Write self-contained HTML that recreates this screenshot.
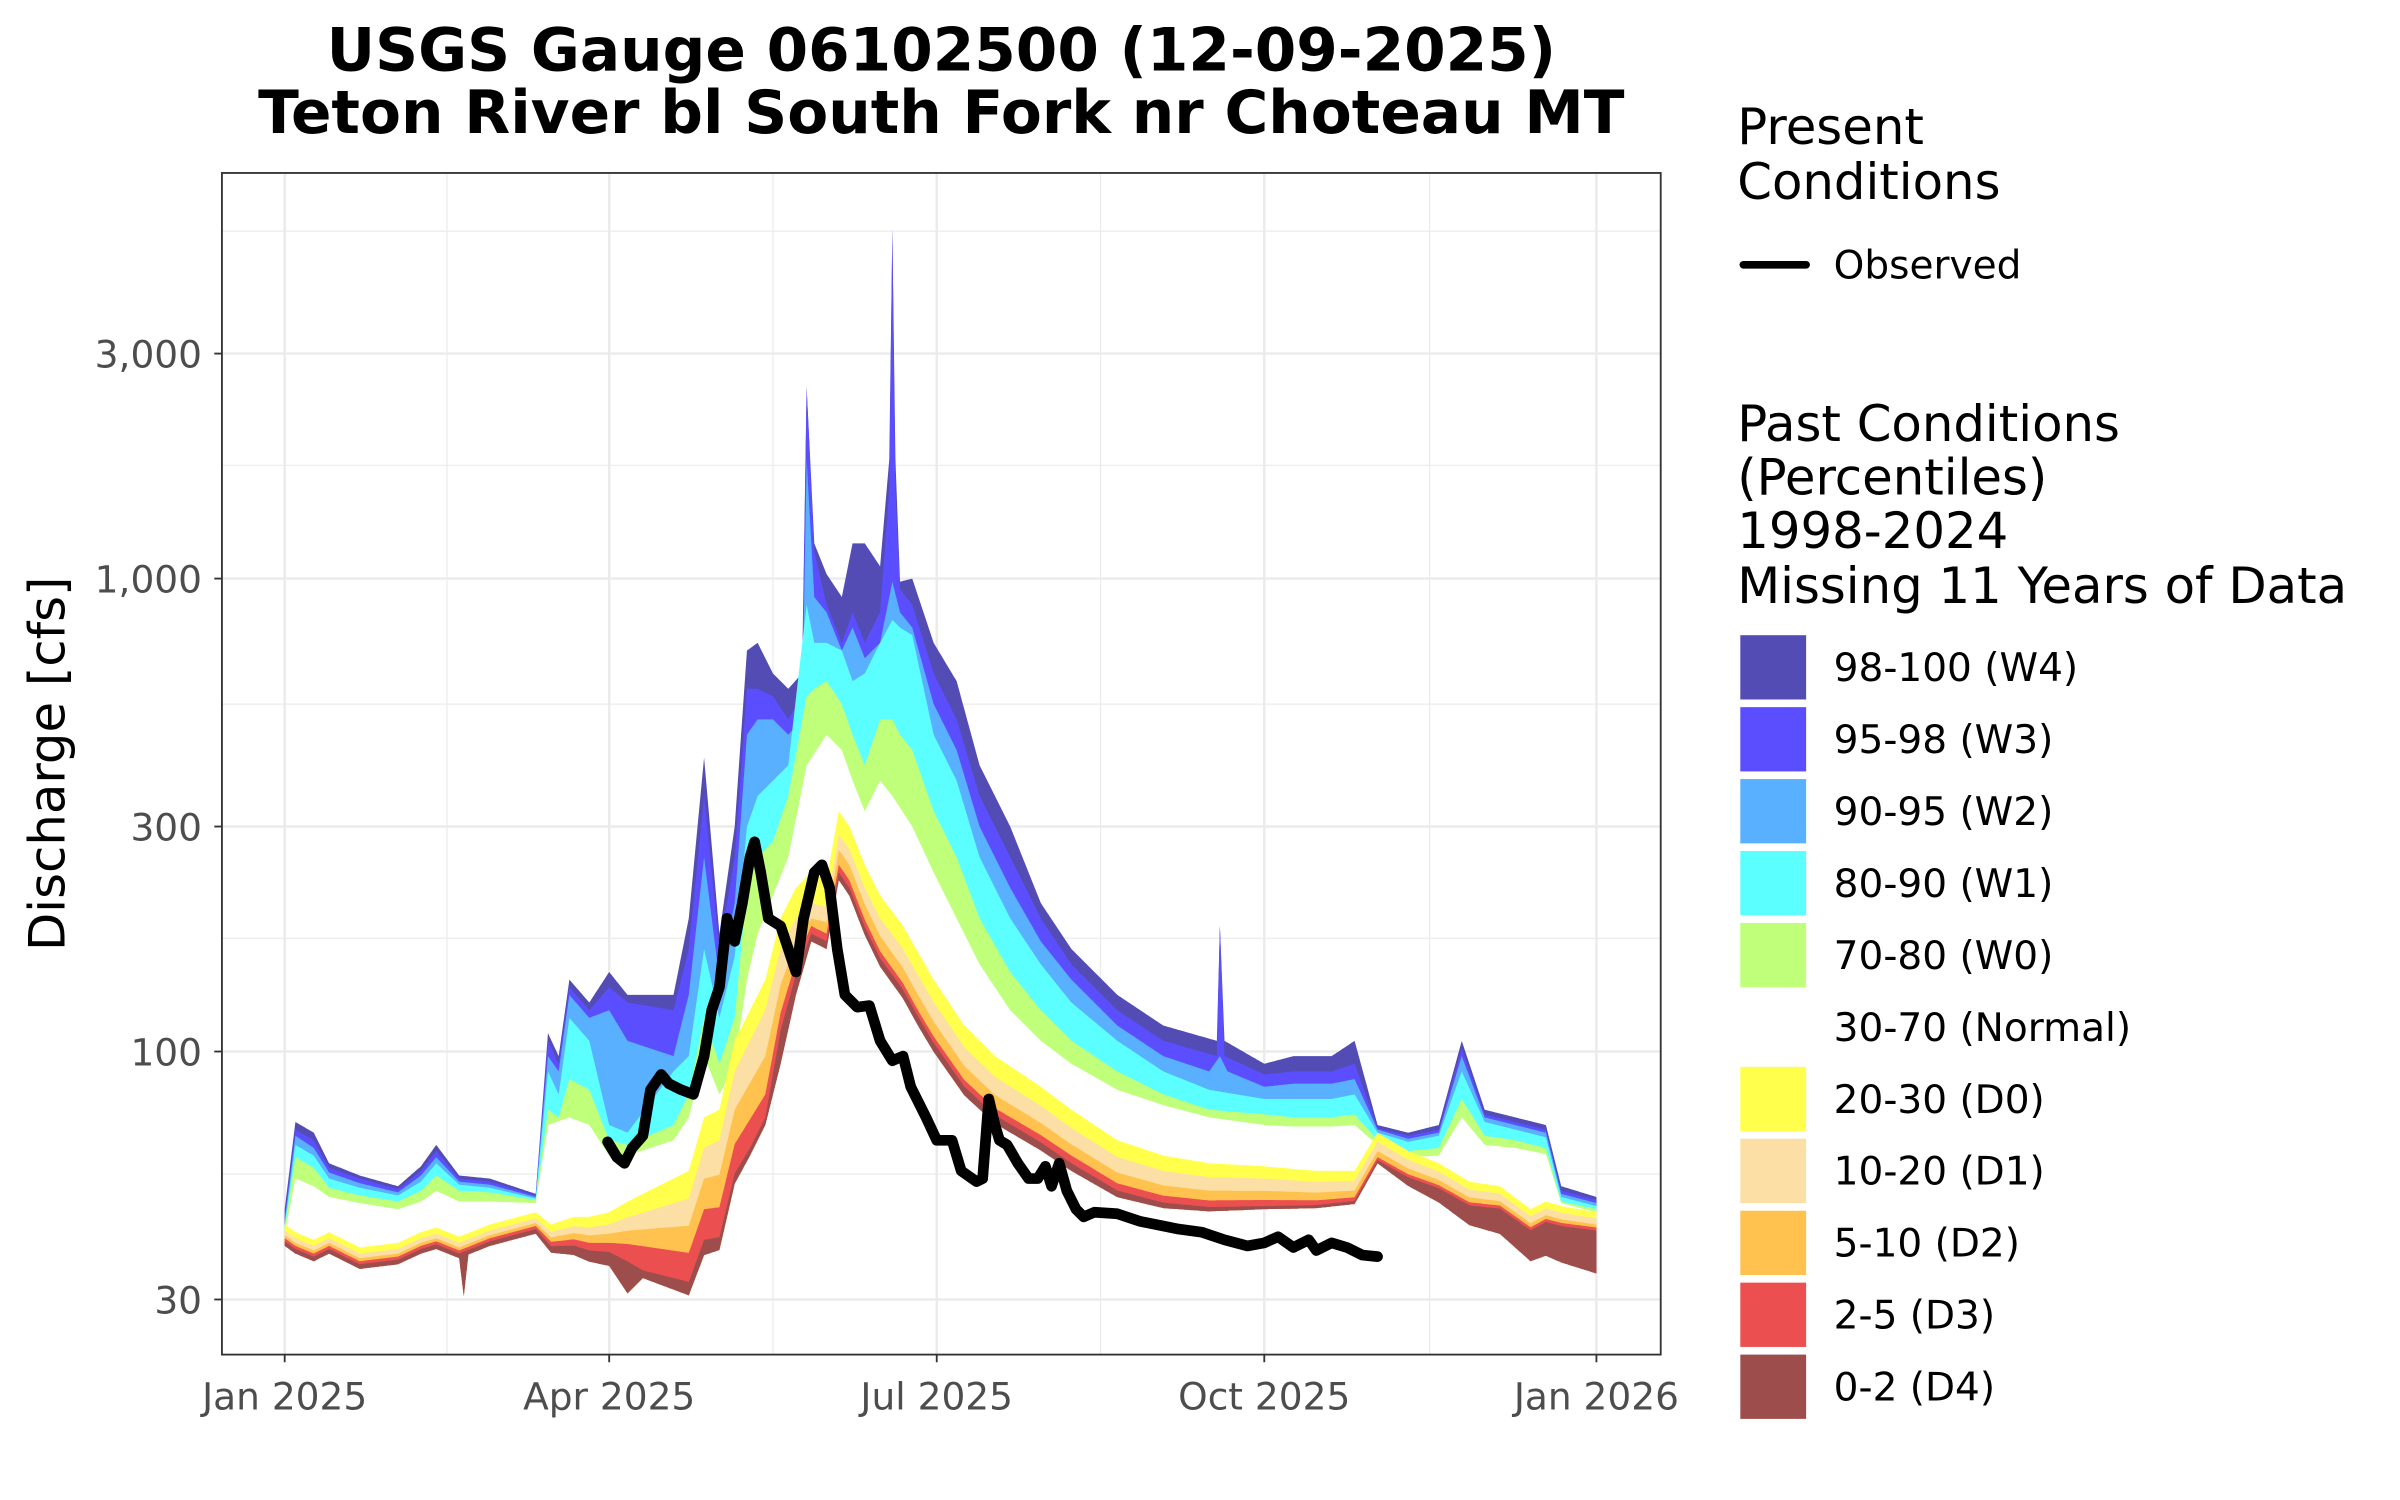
<!DOCTYPE html>
<html><head><meta charset="utf-8"><style>
html,body{margin:0;padding:0;background:#fff;width:2400px;height:1500px;overflow:hidden}
svg{display:block}
text{font-family:"DejaVu Sans","Liberation Sans",sans-serif}
</style></head><body>
<svg id="s" width="2400" height="1500" viewBox="0 0 1568 980" preserveAspectRatio="none" xmlns="http://www.w3.org/2000/svg">
<defs><clipPath id="cp"><rect x="145" y="113" width="940" height="772"/></clipPath></defs>
<rect x="0" y="0" width="1568" height="980" fill="#fff"/>
<g id="grid">
<g stroke="#ebebeb" stroke-width="0.8">
<line x1="145" x2="1085" y1="151" y2="151"/><line x1="145" x2="1085" y1="304" y2="304"/>
<line x1="145" x2="1085" y1="460" y2="460"/><line x1="145" x2="1085" y1="613" y2="613"/>
<line x1="145" x2="1085" y1="767" y2="767"/>
<line y1="113" y2="885" x1="292" x2="292"/><line y1="113" y2="885" x1="505" x2="505"/>
<line y1="113" y2="885" x1="719" x2="719"/><line y1="113" y2="885" x1="934" x2="934"/>
</g>
<g stroke="#ebebeb" stroke-width="1.6">
<line x1="145" x2="1085" y1="231" y2="231"/><line x1="145" x2="1085" y1="378" y2="378"/>
<line x1="145" x2="1085" y1="540" y2="540"/><line x1="145" x2="1085" y1="687" y2="687"/>
<line x1="145" x2="1085" y1="849" y2="849"/>
<line y1="113" y2="885" x1="186" x2="186"/><line y1="113" y2="885" x1="398" x2="398"/>
<line y1="113" y2="885" x1="612" x2="612"/><line y1="113" y2="885" x1="826" x2="826"/>
<line y1="113" y2="885" x1="1043" x2="1043"/>
</g>
</g>
<g id="bands" clip-path="url(#cp)"></g>
<polyline id="obs" fill="none" stroke="#000" stroke-width="7" stroke-linejoin="round" stroke-linecap="round" points=""/>
<rect x="145" y="113" width="940" height="772" fill="none" stroke="#333" stroke-width="1.2"/>
<g stroke="#333" stroke-width="1.2">
<line x1="140" x2="145" y1="231" y2="231"/><line x1="140" x2="145" y1="378" y2="378"/>
<line x1="140" x2="145" y1="540" y2="540"/><line x1="140" x2="145" y1="687" y2="687"/>
<line x1="140" x2="145" y1="849" y2="849"/>
<line y1="885" y2="890" x1="186" x2="186"/><line y1="885" y2="890" x1="398" x2="398"/>
<line y1="885" y2="890" x1="612" x2="612"/><line y1="885" y2="890" x1="826" x2="826"/>
<line y1="885" y2="890" x1="1043" x2="1043"/>
</g>
<g fill="#4d4d4d" font-size="24.5" text-anchor="end">
<text x="132" y="240">3,000</text><text x="132" y="387">1,000</text>
<text x="132" y="549">300</text><text x="132" y="696">100</text><text x="132" y="858">30</text>
</g>
<g fill="#4d4d4d" font-size="24.5" text-anchor="middle">
<text x="186" y="921">Jan 2025</text><text x="398" y="921">Apr 2025</text>
<text x="612" y="921">Jul 2025</text><text x="826" y="921">Oct 2025</text>
<text x="1043" y="921">Jan 2026</text>
</g>
<text x="0" y="0" transform="translate(42,499) rotate(-90)" font-size="32.5" text-anchor="middle" fill="#000">Discharge [cfs]</text>
<text x="615" y="46" font-size="39" font-weight="bold" text-anchor="middle" fill="#000">USGS Gauge 06102500 (12-09-2025)</text>
<text x="615" y="87" font-size="39" font-weight="bold" text-anchor="middle" fill="#000">Teton River bl South Fork nr Choteau MT</text>
<g font-size="32.5" fill="#000">
<text x="1135" y="94">Present</text><text x="1135" y="130">Conditions</text>
<text x="1135" y="288">Past Conditions</text><text x="1135" y="323">(Percentiles)</text>
<text x="1135" y="358">1998-2024</text><text x="1135" y="394">Missing 11 Years of Data</text>
</g>
<line x1="1139" x2="1180" y1="173" y2="173" stroke="#000" stroke-width="5" stroke-linecap="round"/>
<g font-size="25.5" fill="#000">
<text x="1198" y="182">Observed</text>
<text x="1198" y="445">98-100 (W4)</text><text x="1198" y="492">95-98 (W3)</text>
<text x="1198" y="539">90-95 (W2)</text><text x="1198" y="586">80-90 (W1)</text>
<text x="1198" y="633">70-80 (W0)</text><text x="1198" y="680">30-70 (Normal)</text>
<text x="1198" y="727">20-30 (D0)</text><text x="1198" y="774">10-20 (D1)</text>
<text x="1198" y="821">5-10 (D2)</text><text x="1198" y="868">2-5 (D3)</text>
<text x="1198" y="915">0-2 (D4)</text>
</g>
<g>
<rect x="1137" y="415" width="43" height="42" fill="#534cb5"/>
<rect x="1137" y="462" width="43" height="42" fill="#5a4eff"/>
<rect x="1137" y="509" width="43" height="42" fill="#58b0ff"/>
<rect x="1137" y="556" width="43" height="42" fill="#5bffff"/>
<rect x="1137" y="603" width="43" height="42" fill="#bfff7a"/>
<rect x="1137" y="697" width="43" height="42" fill="#ffff4c"/>
<rect x="1137" y="744" width="43" height="42" fill="#fcdfa4"/>
<rect x="1137" y="791" width="43" height="42" fill="#ffc24e"/>
<rect x="1137" y="838" width="43" height="42" fill="#ec4f4f"/>
<rect x="1137" y="885" width="43" height="42" fill="#9e4d4d"/>
</g>
</svg>
<script>
(function(){
function interp(pts,x){if(x<=pts[0][0])return pts[0][1];for(var i=1;i<pts.length;i++){if(x<=pts[i][0]){var a=pts[i-1],b=pts[i];return a[1]+(b[1]-a[1])*(x-a[0])/(b[0]-a[0]);}}return pts[pts.length-1][1];}
var P100=[[186,790],[193,733],[205,740],[215,760],[235,768],[260,775],[275,762],[285,748],[300,768],[320,770],[350,780],[358,675],[365,690],[372,640],[385,655],[398,635],[410,650],[440,650],[450,600],[460,495],[470,610],[480,540],[488,425],[495,420],[505,440],[515,450],[524,440],[527,253],[532,355],[540,375],[550,390],[557,355],[565,355],[575,370],[581,300],[583,150],[585,300],[588,380],[596,378],[610,420],[625,445],[640,500],[660,540],[680,590],[700,620],[730,650],[760,670],[795,680],[797,605],[800,680],[826,695],[845,690],[870,690],[885,680],[900,735],[920,740],[940,735],[955,680],[970,725],[990,730],[1010,735],[1020,775],[1043,782]];
var P98=[[186,795],[193,738],[205,745],[215,763],[235,770],[260,777],[275,765],[285,752],[300,770],[320,772],[350,781],[358,680],[365,695],[372,645],[385,660],[398,645],[410,655],[440,660],[450,620],[460,520],[470,620],[480,560],[488,450],[495,450],[505,455],[515,470],[524,455],[527,253],[532,360],[540,395],[550,420],[557,400],[565,420],[575,400],[581,320],[583,150],[585,320],[588,385],[596,395],[610,440],[625,470],[640,520],[660,560],[680,600],[700,630],[730,660],[760,680],[795,690],[797,605],[800,690],[826,702],[845,700],[870,700],[885,695],[900,737],[920,742],[940,738],[955,685],[970,728],[990,733],[1010,738],[1020,778],[1043,784]];
var P95=[[186,798],[193,742],[205,750],[215,766],[235,773],[260,779],[275,768],[285,756],[300,772],[320,774],[350,782],[358,690],[365,700],[372,650],[385,665],[398,660],[410,680],[440,690],[450,650],[460,560],[470,640],[480,590],[488,480],[495,470],[505,470],[515,480],[524,470],[527,300],[532,390],[540,400],[550,425],[557,410],[565,430],[575,420],[583,380],[588,400],[596,410],[610,460],[625,490],[640,540],[660,580],[680,615],[700,640],[730,670],[760,690],[790,700],[797,690],[802,700],[826,710],[845,708],[870,708],[885,705],[900,738],[920,744],[940,740],[955,690],[970,730],[990,735],[1010,740],[1020,780],[1043,786]];
var P90=[[186,800],[193,748],[205,755],[215,770],[235,776],[260,781],[275,772],[285,760],[300,774],[320,776],[350,783],[358,700],[365,715],[372,665],[385,680],[398,735],[410,740],[440,700],[450,690],[460,620],[470,665],[480,625],[488,540],[495,520],[505,510],[515,500],[527,395],[532,420],[540,420],[550,425],[557,445],[565,440],[575,420],[583,405],[588,410],[596,415],[610,480],[625,510],[640,560],[660,600],[680,630],[700,655],[730,680],[760,700],[790,712],[826,718],[845,718],[870,718],[885,715],[900,740],[920,746],[940,742],[955,700],[970,733],[990,738],[1010,743],[1020,782],[1043,788]];
var P80=[[186,803],[193,756],[205,763],[215,776],[235,781],[260,785],[275,778],[285,768],[300,778],[320,779],[350,784],[358,725],[365,730],[372,705],[385,712],[398,745],[410,748],[440,735],[450,715],[460,665],[470,695],[480,665],[488,580],[495,560],[505,550],[515,520],[527,455],[532,450],[540,445],[550,460],[557,480],[565,500],[575,470],[583,470],[588,480],[596,490],[610,530],[625,560],[640,600],[660,635],[680,660],[700,680],[730,700],[760,715],[790,725],[826,728],[845,730],[870,730],[885,728],[900,745],[920,752],[940,750],[955,718],[970,742],[990,745],[1010,750],[1020,785],[1043,790]];
var P70=[[186,806],[193,770],[205,775],[215,782],[235,786],[260,790],[275,785],[285,778],[300,785],[320,785],[350,786],[358,735],[372,730],[385,735],[398,755],[410,755],[440,745],[450,730],[460,690],[470,715],[480,695],[488,640],[495,610],[505,585],[515,560],[527,500],[540,480],[550,490],[557,510],[565,530],[575,510],[583,520],[596,540],[610,570],[625,600],[640,630],[660,660],[680,680],[700,695],[730,712],[760,722],[790,730],[826,735],[845,736],[870,736],[885,735],[900,748],[920,756],[940,755],[955,730],[970,748],[990,750],[1010,754],[1020,786],[1043,792]];
var P30=[[186,800],[193,805],[205,810],[215,805],[235,815],[260,812],[275,805],[285,802],[300,808],[320,800],[350,792],[360,800],[375,795],[385,795],[398,792],[410,785],[430,775],[450,765],[460,730],[470,725],[480,680],[490,660],[500,640],[510,600],[520,580],[530,570],[540,575],[548,530],[555,540],[565,565],[575,585],[590,605],[610,640],[630,670],[650,690],[680,710],[700,725],[730,745],[760,755],[790,760],[826,762],[860,765],[885,765],[900,740],[920,752],[940,760],[960,772],[980,775],[1000,790],[1010,785],[1020,788],[1043,792]];
var O20=[[186,4],[350,4],[398,8],[460,20],[530,20],[550,15],[600,15],[826,8],[900,6],[1043,4]];
var O10=[[186,7],[350,7],[398,14],[460,40],[500,50],[530,30],[550,25],[600,28],[826,16],[900,12],[1043,8]];
var O5=[[186,9],[350,9],[398,20],[460,60],[500,75],[530,35],[550,35],[600,38],[700,30],[826,22],[900,16],[1043,10]];
var O2=[[186,11],[350,11],[398,26],[420,50],[460,80],[490,90],[500,90],[530,40],[550,40],[600,42],[700,35],[826,26],[900,18],[1043,12]];
var O0=[[186,14],[300,14],[303,40],[306,14],[350,14],[398,35],[410,60],[420,55],[460,90],[490,95],[510,95],[530,45],[550,45],[600,48],[700,40],[826,28],[900,20],[1043,40]];
var xs=[];for(var x=186;x<=1043;x+=1)xs.push(x);
function arr(p){return xs.map(function(x){return interp(p,x);});}
function off(o){return xs.map(function(x){return interp(P30,x)+interp(o,x);});}
var bottom=off(O0);
var layers=[[arr(P100),"#534cb5"],[arr(P98),"#5a4eff"],[arr(P95),"#58b0ff"],[arr(P90),"#5bffff"],[arr(P80),"#bfff7a"],[arr(P70),"#ffffff"],[arr(P30),"#ffff4c"],[off(O20),"#fcdfa4"],[off(O10),"#ffc24e"],[off(O5),"#ec4f4f"],[off(O2),"#9e4d4d"]];
var g=document.getElementById("bands");var ns="http://www.w3.org/2000/svg";
layers.forEach(function(L){var up=L[0];var pts=[];for(var i=0;i<xs.length;i++)pts.push(xs[i]+","+Math.min(up[i],bottom[i]).toFixed(1));for(var i=xs.length-1;i>=0;i--)pts.push(xs[i]+","+bottom[i].toFixed(1));var p=document.createElementNS(ns,"polygon");p.setAttribute("points",pts.join(" "));p.setAttribute("fill",L[1]);g.appendChild(p);});
var obs=[[397,746],[403,756],[408,760],[413,750],[420,742],[425,712],[432,702],[437,708],[445,712],[453,715],[460,690],[465,660],[470,645],[475,600],[480,615],[485,590],[490,560],[493,550],[497,570],[502,600],[510,605],[515,620],[520,635],[525,600],[532,570],[537,565],[542,580],[547,620],[552,650],[560,658],[568,657],[575,680],[583,693],[590,690],[595,710],[605,730],[612,745],[622,745],[628,765],[638,772],[642,770],[646,718],[650,735],[653,745],[658,748],[665,760],[672,770],[678,770],[683,762],[687,775],[692,760],[697,778],[703,790],[708,795],[715,792],[730,793],[745,798],[760,801],[770,803],[785,805],[800,810],[815,814],[826,812],[835,808],[845,815],[855,810],[860,817],[870,812],[880,815],[890,820],[900,821]];
document.getElementById("obs").setAttribute("points",obs.map(function(p){return p[0]+","+p[1];}).join(" "));
})();
</script>
</body></html>
